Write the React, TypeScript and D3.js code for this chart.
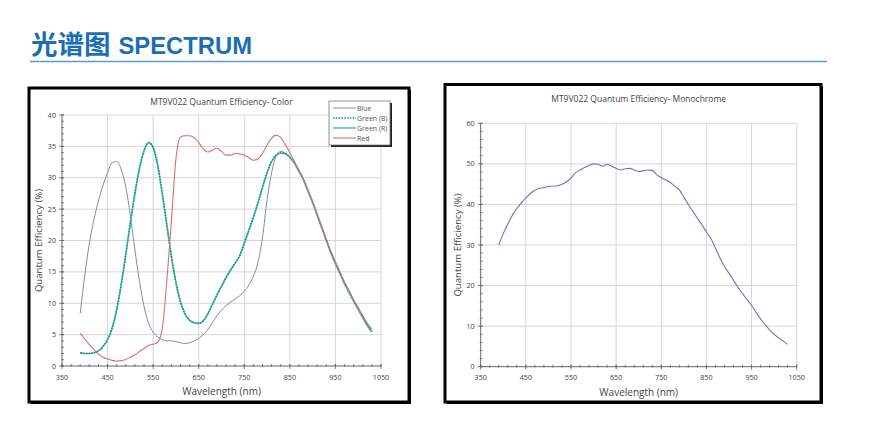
import React from "react";
import * as d3 from "d3";

// wavelength samples (nm) for the colour sensor
const waveColor = [
  390, 400, 410, 420, 430, 440, 450, 460, 470, 480, 490, 500, 510, 520, 530, 540, 550,
  560, 570, 580, 590, 600, 610, 620, 630, 640, 650, 660, 670, 680, 690, 700, 710, 720,
  730, 740, 750, 760, 770, 780, 790, 800, 810, 820, 830, 840, 850, 860, 870, 880, 890,
  900, 910, 920, 930, 940, 950, 960, 970, 980, 990, 1000, 1010, 1020, 1030,
];

const blueQE = [
  8.4, 14.5, 19.5, 23.3, 26.3, 28.8, 30.8, 32.4, 32.6, 31.3, 28.5, 24.0, 18.5, 13.5, 9.5, 6.8, 5.4,
  4.6, 4.2, 4.0, 4.0, 3.9, 3.7, 3.6, 3.7, 4.0, 4.4, 5.0, 5.8, 6.9, 8.0, 8.9, 9.6, 10.2,
  10.7, 11.2, 11.9, 12.9, 14.3, 16.5, 20.5, 26.5, 30.8, 33.5, 34.2, 33.9, 33.3, 32.4, 31.1, 29.7, 27.9,
  26.1, 24.1, 22.1, 20.1, 18.1, 16.4, 14.8, 13.2, 11.8, 10.4, 9.1, 7.8, 6.5, 5.5,
];

const greenBQE = [
  2.1, 2.0, 2.0, 2.1, 2.4, 3.1, 4.2, 6.0, 9.0, 13.0, 17.8, 22.8, 27.5, 31.5, 34.3, 35.6, 34.8,
  32.0, 27.5, 22.5, 17.5, 13.3, 10.2, 8.3, 7.3, 6.9, 6.8, 7.2, 8.3, 9.8, 11.3, 12.7, 14.1, 15.3,
  16.4, 17.6, 19.6, 21.6, 23.7, 26.0, 28.5, 30.8, 32.6, 33.6, 34.0, 33.9, 33.3, 32.4, 31.1, 29.7, 27.9,
  26.1, 24.1, 22.1, 20.1, 18.1, 16.4, 14.8, 13.2, 11.8, 10.4, 9.1, 7.8, 6.5, 5.5,
];

const greenRQE = [
  2.1, 2.0, 2.0, 2.1, 2.4, 3.1, 4.2, 6.0, 9.0, 13.0, 17.8, 22.8, 27.5, 31.5, 34.3, 35.6, 34.8,
  32.0, 27.5, 22.5, 17.5, 13.3, 10.2, 8.3, 7.3, 6.9, 6.8, 7.2, 8.3, 9.8, 11.3, 12.7, 14.1, 15.3,
  16.4, 17.6, 19.6, 21.6, 23.7, 26.0, 28.5, 30.8, 32.6, 33.6, 33.9, 33.8, 33.2, 32.3, 31.0, 29.6, 27.8,
  26.0, 24.0, 22.0, 20.0, 18.0, 16.3, 14.7, 13.1, 11.7, 10.3, 9.0, 7.7, 6.4, 5.4,
];

const redQE = [
  5.2, 4.3, 3.4, 2.6, 1.9, 1.4, 1.1, 0.9, 0.8, 0.85, 1.05, 1.4, 1.8, 2.3, 2.8, 3.3, 3.45,
  3.8, 6.0, 13.5, 23.0, 33.0, 36.5, 36.7, 36.7, 36.4, 35.6, 34.6, 34.1, 34.4, 34.7, 34.2, 33.6, 33.6,
  33.9, 33.8, 33.6, 33.2, 32.8, 33.0, 33.9, 35.2, 36.3, 36.8, 36.4, 35.3, 34.0, 32.6, 31.2, 29.8, 28.0,
  26.2, 24.2, 22.2, 20.2, 18.3, 16.6, 15.0, 13.4, 12.0, 10.6, 9.3, 8.0, 6.8, 5.9,
];

// monochrome sensor
const waveMono = waveColor;
const monoQE = [
  30.0, 32.8, 35.2, 37.3, 39.0, 40.4, 41.6, 42.7, 43.5, 44.0, 44.1, 44.5, 44.5, 44.6, 45.0, 45.6, 46.5,
  47.8, 48.5, 49.1, 49.6, 50.0, 49.9, 49.4, 49.9, 49.4, 48.9, 48.5, 48.8, 48.9, 48.5, 48.1, 48.3, 48.5,
  48.4, 47.3, 46.6, 46.0, 45.4, 44.5, 43.6, 41.8, 40.0, 38.3, 36.6, 35.0, 33.2, 31.6, 29.2, 26.8, 24.7,
  23.0, 21.3, 19.6, 18.0, 16.6, 15.1, 13.4, 11.8, 10.4, 9.1, 8.0, 7.1, 6.3, 5.5,
];

const xTicks = [350, 450, 550, 650, 750, 850, 950, 1050];
const yTicksColor = [0, 5, 10, 15, 20, 25, 30, 35, 40];
const yTicksMono = [0, 10, 20, 30, 40, 50, 60];

type Series = { name: string; values: number[]; color: string; width: number; dash?: string };

const colorSeries: Series[] = [
  { name: "Blue", values: blueQE, color: "#8489ad", width: 1 },
  { name: "Green (R)", values: greenRQE, color: "#5cc2bf", width: 1.6 },
  { name: "Green (B)", values: greenBQE, color: "#14967f", width: 1.6, dash: "1.6,1.2" },
  { name: "Red", values: redQE, color: "#d9716b", width: 1.1 },
];
const legendOrder = ["Blue", "Green (B)", "Green (R)", "Red"];

const FONT = "'Open Sans', 'Noto Sans', sans-serif";

function Panel(props: {
  frame: [number, number, number, number];
  plot: [number, number, number, number];
  title: string;
  yMax: number;
  yTicks: number[];
  yMinor: number;
  waves: number[];
  series: Series[];
  legend?: boolean;
}) {
  const { frame, plot, title, yMax, yTicks, yMinor, waves, series, legend } = props;
  const [x0, yTop, x1, yBot] = plot;
  const x = d3.scaleLinear().domain([350, 1050]).range([x0, x1]);
  const y = d3.scaleLinear().domain([0, yMax]).range([yBot, yTop]);
  const minorX = d3.range(350, 1051, 20);
  const minorY = d3.range(0, yMax + 0.001, yMinor);
  const line = d3
    .line<number>()
    .x((_, i) => x(waves[i]))
    .y((d) => y(d))
    .curve(d3.curveMonotoneX);
  const [fx0, fy0, fx1, fy1] = frame;
  const lx = x1 - 52;
  const ly = yTop - 14;
  return (
    <g>
      <rect x={fx0 + 2} y={fy0 + 2} width={fx1 - fx0} height={fy1 - fy0} fill="#000" />
      <rect x={fx0} y={fy0} width={fx1 - fx0} height={fy1 - fy0} fill="#fff" stroke="#000" strokeWidth={3} />
      <text x={(x0 + x1) / 2} y={fy0 + 17} textAnchor="middle" fontSize={8.5} fill="#444" fontFamily={FONT}>
        {title}
      </text>
      {xTicks.slice(1).map((t) => (
        <line key={"gx" + t} x1={x(t)} x2={x(t)} y1={yTop} y2={yBot} stroke="#d6d6d6" strokeWidth={1} />
      ))}
      {yTicks.slice(1).map((t) => (
        <line key={"gy" + t} x1={x0} x2={x1} y1={y(t)} y2={y(t)} stroke="#d6d6d6" strokeWidth={1} />
      ))}
      <line x1={x0} x2={x1} y1={yBot} y2={yBot} stroke="#666" strokeWidth={1} />
      <line x1={x0} x2={x0} y1={yTop} y2={yBot} stroke="#666" strokeWidth={1} />
      {minorX.map((t) => (
        <line key={"mx" + t} x1={x(t)} x2={x(t)} y1={yBot - 2} y2={yBot + 1} stroke="#666" strokeWidth={0.8} />
      ))}
      {xTicks.map((t) => (
        <line key={"tx" + t} x1={x(t)} x2={x(t)} y1={yBot - 2} y2={yBot + 3} stroke="#666" strokeWidth={0.8} />
      ))}
      {minorY.map((t) => (
        <line key={"my" + t} x1={x0 - 1} x2={x0 + 2} y1={y(t)} y2={y(t)} stroke="#666" strokeWidth={0.8} />
      ))}
      {yTicks.map((t) => (
        <line key={"ty" + t} x1={x0 - 3} x2={x0 + 2} y1={y(t)} y2={y(t)} stroke="#666" strokeWidth={0.8} />
      ))}
      {xTicks.map((t) => (
        <text key={"lx" + t} x={x(t)} y={yBot + 13.5} textAnchor="middle" fontSize={7.2} fill="#444" fontFamily={FONT}>
          {t}
        </text>
      ))}
      {yTicks.map((t) => (
        <text key={"ly" + t} x={x0 - 6} y={y(t) + 2.5} textAnchor="end" fontSize={7.2} fill="#444" fontFamily={FONT}>
          {t}
        </text>
      ))}
      <text x={(x0 + x1) / 2} y={yBot + 29} textAnchor="middle" fontSize={10} fill="#444" fontFamily={FONT}>
        Wavelength (nm)
      </text>
      <text
        transform={`translate(${x0 - 20},${(yTop + yBot) / 2}) rotate(-90)`}
        textAnchor="middle"
        fontSize={9.6}
        fill="#444"
        fontFamily={FONT}
      >
        Quantum Efficiency (%)
      </text>
      {series.map((s) => (
        <path
          key={s.name}
          d={line(s.values) ?? ""}
          fill="none"
          stroke={s.color}
          strokeWidth={s.width}
          strokeDasharray={s.dash}
        />
      ))}
      {legend && (
        <g>
          <rect x={lx + 2} y={ly + 2} width={61} height={44} fill="#222" />
          <rect x={lx} y={ly} width={61} height={44} fill="#fff" stroke="#777" strokeWidth={0.8} />
          {legendOrder.map((n, i) => {
            const s = series.find((d) => d.name === n)!;
            const yy = ly + 7 + i * 10;
            return (
              <g key={n}>
                <line x1={lx + 4} x2={lx + 27} y1={yy} y2={yy} stroke={s.color} strokeWidth={s.width} strokeDasharray={s.dash} />
                <text x={lx + 28} y={yy + 2.5} fontSize={7} fill="#555" fontFamily={FONT}>
                  {n}
                </text>
              </g>
            );
          })}
        </g>
      )}
    </g>
  );
}

export default function App() {
  return (
    <svg width={879} height={442} style={{ position: "absolute", left: 0, top: 0, background: "#fff" }}>
      <text x={31} y={54} fill="#1b6db6" fontWeight="bold" fontFamily="'Liberation Sans', Arial, sans-serif">
        <tspan fontSize={26.5} fontFamily="'Noto Sans CJK SC', sans-serif">光谱图</tspan>
        <tspan fontSize={23.8} dx={8}>SPECTRUM</tspan>
      </text>
      <line x1={30} x2={827} y1={61.5} y2={61.5} stroke="#5b9bd5" strokeWidth={1.5} />
      <Panel
        frame={[29, 88, 409, 402]}
        plot={[62, 115, 381, 366]}
        title="MT9V022 Quantum Efficiency- Color"
        yMax={40}
        yTicks={yTicksColor}
        yMinor={1}
        waves={waveColor}
        series={colorSeries}
        legend
      />
      <Panel
        frame={[445, 84.5, 821, 402]}
        plot={[480.7, 123.3, 796.7, 366.7]}
        title="MT9V022 Quantum Efficiency- Monochrome"
        yMax={60}
        yTicks={yTicksMono}
        yMinor={2}
        waves={waveMono}
        series={[{ name: "Mono", values: monoQE, color: "#6b77b8", width: 1.1 }]}
      />
    </svg>
  );
}
